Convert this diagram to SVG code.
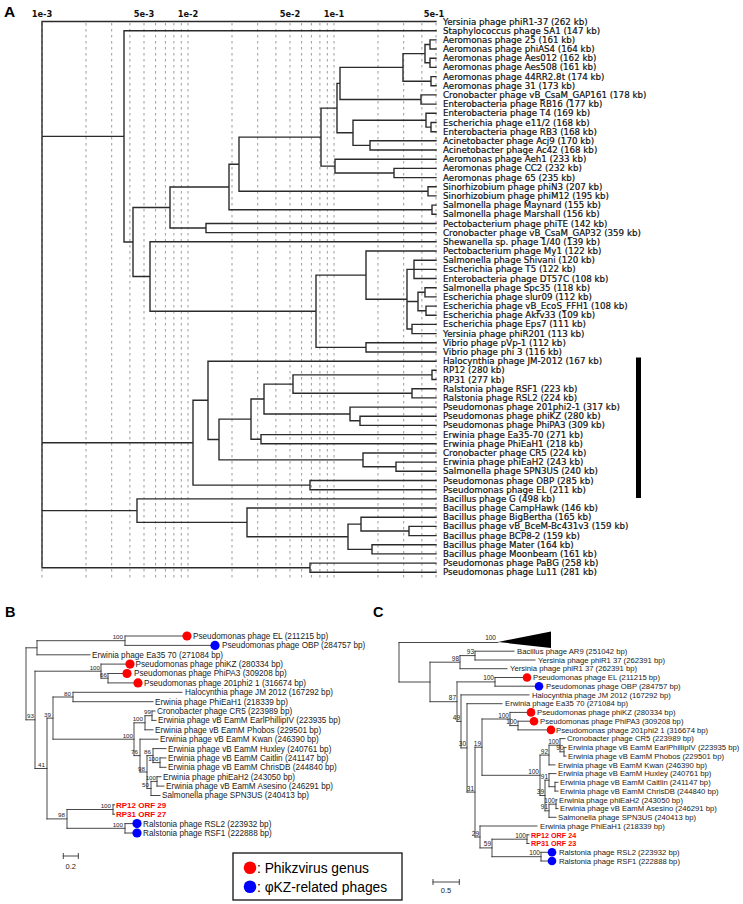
<svg xmlns="http://www.w3.org/2000/svg" width="743" height="904" viewBox="0 0 743 904">
<style>
.bg{fill:#fff}
.grid{stroke:#9a9a9a;stroke-width:1;stroke-dasharray:2.5 3.5;fill:none}
.tA{stroke:#2b2b2b;stroke-width:1.4;fill:none;stroke-linecap:square}
.tB{stroke:#333;stroke-width:0.9;fill:none;stroke-linecap:square}
.la{font-family:'DejaVu Sans',sans-serif;font-size:8.7px;fill:#111;stroke:#111;stroke-width:0.2}
.ax{font-family:'DejaVu Sans',sans-serif;font-size:8.3px;font-weight:bold;fill:#111;text-anchor:middle}
.lb{font-family:'Liberation Sans',Arial,sans-serif;font-size:8.2px;fill:#1a1a1a}
.lc{font-family:'Liberation Sans',Arial,sans-serif;font-size:7.7px;fill:#1a1a1a}
.bs{font-family:'Liberation Sans',Arial,sans-serif;font-size:6.2px;fill:#222;text-anchor:end}
.bc{font-family:'Liberation Sans',Arial,sans-serif;font-size:6.5px;fill:#222;text-anchor:end}
.orfb{font-family:'Liberation Sans',Arial,sans-serif;font-size:8px;font-weight:bold;fill:#ff0000}
.orfc{font-family:'Liberation Sans',Arial,sans-serif;font-size:7.2px;font-weight:bold;fill:#ff0000}
.red{fill:#ff0000}
.blue{fill:#0000ff}
.pl{font-family:'Liberation Sans',Arial,sans-serif;font-weight:bold;fill:#000}
.leg{font-family:'Liberation Sans',Arial,sans-serif;font-size:13.8px;fill:#000}
.sc{font-family:'Liberation Sans',Arial,sans-serif;font-size:7.5px;fill:#222;text-anchor:middle}
</style>
<rect class="bg" x="0" y="0" width="743" height="904"/>

<!-- Panel labels -->
<text class="pl" x="4" y="17" font-size="15.5">A</text>
<text class="pl" x="5" y="617" font-size="14.5">B</text>
<text class="pl" x="373" y="617" font-size="14.5">C</text>

<!-- Panel A axis -->
<g id="a-axis">
<text class="ax" x="42" y="16.5">1e-3</text>
<text class="ax" x="144" y="16.5">5e-3</text>
<text class="ax" x="188" y="16.5">1e-2</text>
<text class="ax" x="290" y="16.5">5e-2</text>
<text class="ax" x="334" y="16.5">1e-1</text>
<text class="ax" x="434" y="16.5">5e-1</text>
<path class="grid" d="M42 23V578M86 23V578M111.7 23V578M129.9 23V578M144 23V578M155.6 23V578M165.4 23V578M173.9 23V578M181.3 23V578M188 23V578M232 23V578M257.7 23V578M275.9 23V578M290 23V578M301.6 23V578M311.4 23V578M319.9 23V578M327.3 23V578M334 23V578M378 23V578M403.7 23V578M421.9 23V578M436 23V578"/>
</g>

<!-- Panel A connectors -->
<g id="a-connectors">
<path class="tA" d="M42 21.5V567.7M42 21.5H436M42 136.4H124M42 442.7H193M42 510.6H137M42 567.7H310
M124 30.7V242M124 30.7H436M124 242H133
M133 207.5V276.5M133 207.5H170M133 276.5H150
M170 187V228M170 187H229M170 228H206
M229 164.2V209.7M229 164.2H239M229 209.7H432
M432 205.1V214.3M432 205.1H436M432 214.3H436
M239 137.1V191.3M239 137.1H321M239 191.3H428
M428 186.7V195.9M428 186.7H436M428 195.9H436
M321 108.1V166.1M321 108.1H337M321 166.1H335
M335 159.2V173M335 159.2H436M335 173H394
M394 168.4V177.6M394 168.4H436M394 177.6H436
M337 83.4V132.8M337 83.4H340M337 132.8H353
M340 67.4V99.5M340 67.4H403M340 99.5H421
M421 94.9V104.1M421 94.9H436M421 104.1H436
M403 53.6V81.2M403 53.6H425M403 81.2H431
M425 44.5V62.8M425 44.5H430M425 62.8H430
M430 39.9V49M430 39.9H436M430 49H436
M430 58.2V67.4M430 58.2H436M430 67.4H436
M431 76.6V85.8M431 76.6H436M431 85.8H436
M353 120.2V145.4M353 120.2H426M353 145.4H370
M426 113.3V127.1M426 113.3H436M426 127.1H431
M431 122.5V131.7M431 122.5H436M431 131.7H436
M370 140.8V150M370 140.8H436M370 150H436
M206 223.5V232.6M206 223.5H436M206 232.6H436
M150 241.8V311.3M150 241.8H436M150 311.3H316
M316 275.1V347.4M316 275.1H366M316 347.4H366
M366 251V299.2M366 251H436M366 299.2H407
M407 269.4V329M407 269.4H414M407 301.5H418M407 329H412
M414 260.2V278.5M414 260.2H436M414 269.4H436M414 278.5H436
M418 292.3V310.7M418 292.3H425M418 310.7H426
M425 287.7V296.9M425 287.7H436M425 296.9H436
M426 306.1V315.3M426 306.1H436M426 315.3H436
M412 324.4V333.6M412 324.4H436M412 333.6H436
M366 342.8V352M366 342.8H436M366 352H436
M193 400.3V485.1M193 400.3H208M193 485.1H310
M208 361.2V439.5M208 361.2H436M208 439.5H219
M219 419.1V459.9M219 419.1H251M219 459.9H363
M251 399V439.2M251 399H264M251 439.2H261
M264 384.1V414M264 384.1H293M264 414H350
M293 374.9V393.3M293 374.9H432M293 393.3H412
M432 370.3V379.5M432 370.3H436M432 379.5H436
M412 388.7V397.9M412 388.7H436M412 397.9H436
M350 407.1V420.8M350 407.1H436M350 420.8H360
M360 416.2V425.4M360 416.2H436M360 425.4H436
M261 434.6V443.8M261 434.6H436M261 443.8H436
M363 453V466.7M363 453H436M363 466.7H396
M396 462.1V471.3M396 462.1H436M396 471.3H436
M310 480.5V489.7M310 480.5H436M310 489.7H436
M137 498.9V522.4M137 498.9H436M137 522.4H247
M247 508V536.7M247 508H436M247 536.7H348
M348 524.1V549.4M348 524.1H361M348 549.4H372
M361 517.2V531M361 517.2H436M361 531H409
M409 526.4V535.6M409 526.4H436M409 535.6H436
M372 544.8V553.9M372 544.8H436M372 553.9H436
M310 563.1V572.3M310 563.1H436M310 572.3H436"/>
<rect x="636" y="357.5" width="5" height="140.5" fill="#000"/>
</g>

<!-- Panel A leaves -->
<g id="a01"><text class="la" x="443" y="24.5">Yersinia phage phiR1-37 (262 kb)</text></g>
<g id="a02"><text class="la" x="443" y="33.7">Staphylococcus phage SA1 (147 kb)</text></g>
<g id="a03"><text class="la" x="443" y="42.9">Aeromonas phage 25 (161 kb)</text></g>
<g id="a04"><text class="la" x="443" y="52">Aeromonas phage phiAS4 (164 kb)</text></g>
<g id="a05"><text class="la" x="443" y="61.2">Aeromonas phage Aes012 (162 kb)</text></g>
<g id="a06"><text class="la" x="443" y="70.4">Aeromonas phage Aes508 (161 kb)</text></g>
<g id="a07"><text class="la" x="443" y="79.6">Aeromonas phage 44RR2.8t (174 kb)</text></g>
<g id="a08"><text class="la" x="443" y="88.8">Aeromonas phage 31 (173 kb)</text></g>
<g id="a09"><text class="la" x="443" y="97.9">Cronobacter phage vB_CsaM_GAP161 (178 kb)</text></g>
<g id="a10"><text class="la" x="443" y="107.1">Enterobacteria phage RB16 (177 kb)</text></g>
<g id="a11"><text class="la" x="443" y="116.3">Enterobacteria phage T4 (169 kb)</text></g>
<g id="a12"><text class="la" x="443" y="125.5">Escherichia phage e11/2 (168 kb)</text></g>
<g id="a13"><text class="la" x="443" y="134.7">Enterobacteria phage RB3 (168 kb)</text></g>
<g id="a14"><text class="la" x="443" y="143.8">Acinetobacter phage Acj9 (170 kb)</text></g>
<g id="a15"><text class="la" x="443" y="153">Acinetobacter phage Ac42 (168 kb)</text></g>
<g id="a16"><text class="la" x="443" y="162.2">Aeromonas phage Aeh1 (233 kb)</text></g>
<g id="a17"><text class="la" x="443" y="171.4">Aeromonas phage CC2 (232 kb)</text></g>
<g id="a18"><text class="la" x="443" y="180.6">Aeromonas phage 65 (235 kb)</text></g>
<g id="a19"><text class="la" x="443" y="189.7">Sinorhizobium phage phiN3 (207 kb)</text></g>
<g id="a20"><text class="la" x="443" y="198.9">Sinorhizobium phage phiM12 (195 kb)</text></g>
<g id="a21"><text class="la" x="443" y="208.1">Salmonella phage Maynard (155 kb)</text></g>
<g id="a22"><text class="la" x="443" y="217.3">Salmonella phage Marshall (156 kb)</text></g>
<g id="a23"><text class="la" x="443" y="226.5">Pectobacterium phage phiTE (142 kb)</text></g>
<g id="a24"><text class="la" x="443" y="235.6">Cronobacter phage vB_CsaM_GAP32 (359 kb)</text></g>
<g id="a25"><text class="la" x="443" y="244.8">Shewanella sp. phage 1/40 (139 kb)</text></g>
<g id="a26"><text class="la" x="443" y="254">Pectobacterium phage My1 (122 kb)</text></g>
<g id="a27"><text class="la" x="443" y="263.2">Salmonella phage Shivani (120 kb)</text></g>
<g id="a28"><text class="la" x="443" y="272.4">Escherichia phage T5 (122 kb)</text></g>
<g id="a29"><text class="la" x="443" y="281.5">Enterobacteria phage DT57C (108 kb)</text></g>
<g id="a30"><text class="la" x="443" y="290.7">Salmonella phage Spc35 (118 kb)</text></g>
<g id="a31"><text class="la" x="443" y="299.9">Escherichia phage slur09 (112 kb)</text></g>
<g id="a32"><text class="la" x="443" y="309.1">Escherichia phage vB_EcoS_FFH1 (108 kb)</text></g>
<g id="a33"><text class="la" x="443" y="318.3">Escherichia phage Akfv33 (109 kb)</text></g>
<g id="a34"><text class="la" x="443" y="327.4">Escherichia phage Eps7 (111 kb)</text></g>
<g id="a35"><text class="la" x="443" y="336.6">Yersinia phage phiR201 (113 kb)</text></g>
<g id="a36"><text class="la" x="443" y="345.8">Vibrio phage pVp-1 (112 kb)</text></g>
<g id="a37"><text class="la" x="443" y="355">Vibrio phage phi 3 (116 kb)</text></g>
<g id="a38"><text class="la" x="443" y="364.2">Halocynthia phage JM-2012 (167 kb)</text></g>
<g id="a39"><text class="la" x="443" y="373.3">RP12 (280 kb)</text></g>
<g id="a40"><text class="la" x="443" y="382.5">RP31 (277 kb)</text></g>
<g id="a41"><text class="la" x="443" y="391.7">Ralstonia phage RSF1 (223 kb)</text></g>
<g id="a42"><text class="la" x="443" y="400.9">Ralstonia phage RSL2 (224 kb)</text></g>
<g id="a43"><text class="la" x="443" y="410.1">Pseudomonas phage 201phi2-1 (317 kb)</text></g>
<g id="a44"><text class="la" x="443" y="419.2">Pseudomonas phage phiKZ (280 kb)</text></g>
<g id="a45"><text class="la" x="443" y="428.4">Pseudomonas phage PhiPA3 (309 kb)</text></g>
<g id="a46"><text class="la" x="443" y="437.6">Erwinia phage Ea35-70 (271 kb)</text></g>
<g id="a47"><text class="la" x="443" y="446.8">Erwinia phage PhiEaH1 (218 kb)</text></g>
<g id="a48"><text class="la" x="443" y="456">Cronobacter phage CR5 (224 kb)</text></g>
<g id="a49"><text class="la" x="443" y="465.1">Erwinia phage phiEaH2 (243 kb)</text></g>
<g id="a50"><text class="la" x="443" y="474.3">Salmonella phage SPN3US (240 kb)</text></g>
<g id="a51"><text class="la" x="443" y="483.5">Pseudomonas phage OBP (285 kb)</text></g>
<g id="a52"><text class="la" x="443" y="492.7">Pseudomonas phage EL (211 kb)</text></g>
<g id="a53"><text class="la" x="443" y="501.9">Bacillus phage G (498 kb)</text></g>
<g id="a54"><text class="la" x="443" y="511">Bacillus phage CampHawk (146 kb)</text></g>
<g id="a55"><text class="la" x="443" y="520.2">Bacillus phage BigBertha (165 kb)</text></g>
<g id="a56"><text class="la" x="443" y="529.4">Bacillus phage vB_BceM-Bc431v3 (159 kb)</text></g>
<g id="a57"><text class="la" x="443" y="538.6">Bacillus phage BCP8-2 (159 kb)</text></g>
<g id="a58"><text class="la" x="443" y="547.8">Bacillus phage Mater (164 kb)</text></g>
<g id="a59"><text class="la" x="443" y="556.9">Bacillus phage Moonbeam (161 kb)</text></g>
<g id="a60"><text class="la" x="443" y="566.1">Pseudomonas phage PaBG (258 kb)</text></g>
<g id="a61"><text class="la" x="443" y="575.3">Pseudomonas phage Lu11 (281 kb)</text></g>

<!-- Panel B connectors -->
<g id="b-connectors">
<path class="tB" d="M26 647.8V719.8M26 647.8H37M26 719.8H35
M37 640.7V654.8M37 640.7H125M37 654.8H90
M125 636V645.4M125 636H182.5M125 645.4H210.5
M35 671.2V768.5M35 671.2H101M35 768.5H47
M101 664.1V678.2M101 664.1H125.5M101 678.2H108
M108 673.5V682.9M108 673.5H122.5M108 682.9H133.5
M47 718.1V818.9M47 718.1H53M47 818.9H67
M53 697V739.2M53 697H73M53 739.2H134
M73 692.3V701.7M73 692.3H182M73 701.7H153
M134 722.8V755.6M134 722.8H145M134 755.6H140
M145 715.7V729.8M145 715.7H152M145 729.8H153
M152 711V720.4M152 711H155M152 720.4H156
M140 739.2V772M140 739.2H158M140 772H147
M147 755.6V788.5M147 755.6H153M147 788.5H151
M153 748.6V762.6M153 748.6H166M153 762.6H160
M160 757.9V767.3M160 757.9H166M160 767.3H166
M151 781.4V795.5M151 781.4H157M151 795.5H160
M157 776.7V786.1M157 776.7H161M157 786.1H164
M67 809.5V828.3M67 809.5H113M67 828.3H125
M113 804.8V814.2M113 804.8H114.5M113 814.2H114.5
M125 823.6V833M125 823.6H132.5M125 833H132.5"/>
<text class="bs" x="123" y="639">100</text>
<text class="bs" x="100" y="669.7">100</text>
<text class="bs" x="107" y="676.7">66</text>
<text class="bs" x="71" y="695.5">80</text>
<text class="bs" x="51" y="716.6">39</text>
<text class="bs" x="34" y="718.3">93</text>
<text class="bs" x="151" y="714.2">99</text>
<text class="bs" x="143" y="721.3">100</text>
<text class="bs" x="133" y="737.7">100</text>
<text class="bs" x="138" y="754.1">76</text>
<text class="bs" x="151" y="754.1">86</text>
<text class="bs" x="158.5" y="761.1">100</text>
<text class="bs" x="145" y="770.5">98</text>
<text class="bs" x="45" y="767">41</text>
<text class="bs" x="156" y="780">100</text>
<text class="bs" x="149" y="787">50</text>
<text class="bs" x="111" y="808">100</text>
<text class="bs" x="65" y="817.4">98</text>
<text class="bs" x="123" y="826.8">100</text>
<path class="tB" d="M63.3 856H78.3M63.3 853.5V858.5M78.3 853.5V858.5"/>
<text class="sc" x="70.8" y="868.5">0.2</text>
</g>

<!-- Panel B leaves -->
<g id="b01"><circle class="red" cx="187" cy="636" r="4.6"/><text class="lb" x="193" y="638.9">Pseudomonas phage EL (211215 bp)</text></g>
<g id="b02"><circle class="blue" cx="215" cy="645.4" r="4.6"/><text class="lb" x="222" y="648.3">Pseudomonas phage OBP (284757 bp)</text></g>
<g id="b03"><text class="lb" x="92" y="657.7">Erwinia phage Ea35 70 (271084 bp)</text></g>
<g id="b04"><circle class="red" cx="130" cy="664.1" r="4.6"/><text class="lb" x="135.5" y="667">Pseudomonas phage phiKZ (280334 bp)</text></g>
<g id="b05"><circle class="red" cx="127" cy="673.5" r="4.6"/><text class="lb" x="134" y="676.4">Pseudomonas phage PhiPA3 (309208 bp)</text></g>
<g id="b06"><circle class="red" cx="138" cy="682.9" r="4.6"/><text class="lb" x="144" y="685.8">Pseudomonas phage 201phi2 1 (316674 bp)</text></g>
<g id="b07"><text class="lb" x="185" y="695.2">Halocynthia phage JM 2012 (167292 bp)</text></g>
<g id="b08"><text class="lb" x="155" y="704.6">Erwinia phage PhiEaH1 (218339 bp)</text></g>
<g id="b09"><text class="lb" x="157" y="713.9">Cronobacter phage CR5 (223989 bp)</text></g>
<g id="b10"><text class="lb" x="158" y="723.3">Erwinia phage vB EamM EarlPhillipIV (223935 bp)</text></g>
<g id="b11"><text class="lb" x="155" y="732.7">Erwinia phage vB EamM Phobos (229501 bp)</text></g>
<g id="b12"><text class="lb" x="160" y="742.1">Erwinia phage vB EamM Kwan (246390 bp)</text></g>
<g id="b13"><text class="lb" x="168" y="751.5">Erwinia phage vB EamM Huxley (240761 bp)</text></g>
<g id="b14"><text class="lb" x="168" y="760.8">Erwinia phage vB EamM Caitlin (241147 bp)</text></g>
<g id="b15"><text class="lb" x="168" y="770.2">Erwinia phage vB EamM ChrisDB (244840 bp)</text></g>
<g id="b16"><text class="lb" x="163" y="779.6">Erwinia phage phiEaH2 (243050 bp)</text></g>
<g id="b17"><text class="lb" x="166" y="789">Erwinia phage vB EamM Asesino (246291 bp)</text></g>
<g id="b18"><text class="lb" x="162" y="798.4">Salmonella phage SPN3US (240413 bp)</text></g>
<g id="b19"><text class="orfb" x="116" y="807.7">RP12 ORF 29</text></g>
<g id="b20"><text class="orfb" x="116" y="817.1">RP31 ORF 27</text></g>
<g id="b21"><circle class="blue" cx="137" cy="823.6" r="4.6"/><text class="lb" x="143" y="826.5">Ralstonia phage RSL2 (223932 bp)</text></g>
<g id="b22"><circle class="blue" cx="137" cy="833" r="4.6"/><text class="lb" x="143" y="835.9">Ralstonia phage RSF1 (222888 bp)</text></g>

<!-- Legend -->
<g id="legend">
<rect x="233" y="853" width="169" height="47" fill="#fff" stroke="#111" stroke-width="1.3"/>
<circle class="red" cx="250" cy="867.7" r="6.3"/>
<text class="leg" x="257" y="873">: Phikzvirus genus</text>
<circle class="blue" cx="250" cy="886.7" r="6.3"/>
<text class="leg" x="257" y="891.5">: φKZ-related phages</text>
</g>

<!-- Panel C connectors -->
<g id="c-connectors">
<path class="tB" d="M399 642.5V682M399 642.5H498M399 682H430
M430 662.2V701.7M430 662.2H460M430 701.7H457
M460 655.6V668.7M460 655.6H475M460 668.7H507
M475 651.2V660M475 651.2H514M475 660H535
M457 681.9V721.4M457 681.9H495M457 721.4H461
M495 677.5V686.2M495 677.5H523M495 686.2H535
M461 694.9V747.9M461 694.9H529M461 747.9H467
M467 703.7V792.1M467 703.7H502M467 792.1H475
M475 747.2V837M475 747.2H482M475 837H480
M482 719V775.3M482 719H510M482 775.3H540
M510 712.4V725.6M510 712.4H527M510 725.6H518
M518 721.2V729.9M518 721.2H530M518 729.9H547
M540 755.1V795.5M540 755.1H549M540 795.5H545
M549 745.2V764.9M549 745.2H560M549 764.9H555
M560 738.6V751.8M560 738.6H565M560 751.8H564
M564 747.4V756.1M564 747.4H566M564 756.1H566
M545 780.2V810.8M545 780.2H549M545 810.8H549
M549 773.6V786.7M549 773.6H556M549 786.7H555
M555 782.3V791.1M555 782.3H558M555 791.1H558
M549 804.2V817.3M549 804.2H556M549 817.3H556
M556 799.8V808.6M556 799.8H557M556 808.6H558
M480 826V847.9M480 826H537M480 847.9H492
M492 839.2V856.7M492 839.2H527M492 856.7H541
M527 834.8V843.5M527 834.8H529M527 843.5H529
M541 852.3V861M541 852.3H548M541 861H548"/>
<polygon points="498,642 551,631.5 551,648" fill="#000"/>
<text class="bc" x="496" y="639.5">100</text>
<text class="bc" x="474" y="654">93</text>
<text class="bc" x="459" y="660.7">98</text>
<text class="bc" x="494" y="680.4">100</text>
<text class="bc" x="456" y="700.2">87</text>
<text class="bc" x="460" y="719.9">49</text>
<text class="bc" x="509" y="717.5">100</text>
<text class="bc" x="517" y="724.1">100</text>
<text class="bc" x="466" y="746.4">30</text>
<text class="bc" x="481" y="745.7">19</text>
<text class="bc" x="559" y="743.7">100</text>
<text class="bc" x="563.5" y="750.3">90</text>
<text class="bc" x="548" y="753.6">92</text>
<text class="bc" x="539" y="773.8">100</text>
<text class="bc" x="548" y="778.7">91</text>
<text class="bc" x="544" y="794">39</text>
<text class="bc" x="555" y="802.7">100</text>
<text class="bc" x="548" y="809.3">91</text>
<text class="bc" x="474" y="790.6">31</text>
<text class="bc" x="479" y="835.5">29</text>
<text class="bc" x="526" y="837.7">100</text>
<text class="bc" x="491" y="846.4">59</text>
<text class="bc" x="540" y="855.2">100</text>
<path class="tB" d="M433 882H459.3M433 879.5V884.5M459.3 879.5V884.5"/>
<text class="sc" x="446" y="892.5">0.5</text>
</g>

<!-- Panel C leaves -->
<g id="c02"><text class="lc" x="517" y="653.9">Bacillus phage AR9 (251042 bp)</text></g>
<g id="c03"><text class="lc" x="538" y="662.7">Yersinia phage phiR1 37 (262391 bp)</text></g>
<g id="c04"><text class="lc" x="510" y="671.4">Yersinia phage phiR1 37 (262391 bp)</text></g>
<g id="c05"><circle class="red" cx="527" cy="677.5" r="4.3"/><text class="lc" x="533" y="680.2">Pseudomonas phage EL (211215 bp)</text></g>
<g id="c06"><circle class="blue" cx="539" cy="686.2" r="4.3"/><text class="lc" x="546" y="688.9">Pseudomonas phage OBP (284757 bp)</text></g>
<g id="c07"><text class="lc" x="532" y="697.6">Halocynthia phage JM 2012 (167292 bp)</text></g>
<g id="c08"><text class="lc" x="505" y="706.4">Erwinia phage Ea35 70 (271084 bp)</text></g>
<g id="c09"><circle class="red" cx="531" cy="712.4" r="4.3"/><text class="lc" x="537" y="715.1">Pseudomonas phage phiKZ (280334 bp)</text></g>
<g id="c10"><circle class="red" cx="534" cy="721.2" r="4.3"/><text class="lc" x="540" y="723.9">Pseudomonas phage PhiPA3 (309208 bp)</text></g>
<g id="c11"><circle class="red" cx="551" cy="729.9" r="4.3"/><text class="lc" x="556" y="732.6">Pseudomonas phage 201phi2 1 (316674 bp)</text></g>
<g id="c12"><text class="lc" x="567" y="741.3">Cronobacter phage CR5 (223989 bp)</text></g>
<g id="c13"><text class="lc" x="568" y="750.1">Erwinia phage vB EamM EarlPhillipIV (223935 bp)</text></g>
<g id="c14"><text class="lc" x="568" y="758.8">Erwinia phage vB EamM Phobos (229501 bp)</text></g>
<g id="c15"><text class="lc" x="558" y="767.6">Erwinia phage vB EamM Kwan (246390 bp)</text></g>
<g id="c16"><text class="lc" x="558" y="776.3">Erwinia phage vB EamM Huxley (240761 bp)</text></g>
<g id="c17"><text class="lc" x="560" y="785">Erwinia phage vB EamM Caitlin (241147 bp)</text></g>
<g id="c18"><text class="lc" x="560" y="793.8">Erwinia phage vB EamM ChrisDB (244840 bp)</text></g>
<g id="c19"><text class="lc" x="559" y="802.5">Erwinia phage phiEaH2 (243050 bp)</text></g>
<g id="c20"><text class="lc" x="560" y="811.3">Erwinia phage vB EamM Asesino (246291 bp)</text></g>
<g id="c21"><text class="lc" x="558" y="820">Salmonella phage SPN3US (240413 bp)</text></g>
<g id="c22"><text class="lc" x="540" y="828.7">Erwinia phage PhiEaH1 (218339 bp)</text></g>
<g id="c23"><text class="orfc" x="531" y="837.5">RP12 ORF 24</text></g>
<g id="c24"><text class="orfc" x="531" y="846.2">RP31 ORF 23</text></g>
<g id="c25"><circle class="blue" cx="552" cy="852.3" r="4.3"/><text class="lc" x="559" y="855">Ralstonia phage RSL2 (223932 bp)</text></g>
<g id="c26"><circle class="blue" cx="552" cy="861" r="4.3"/><text class="lc" x="559" y="863.7">Ralstonia phage RSF1 (222888 bp)</text></g>
</svg>
